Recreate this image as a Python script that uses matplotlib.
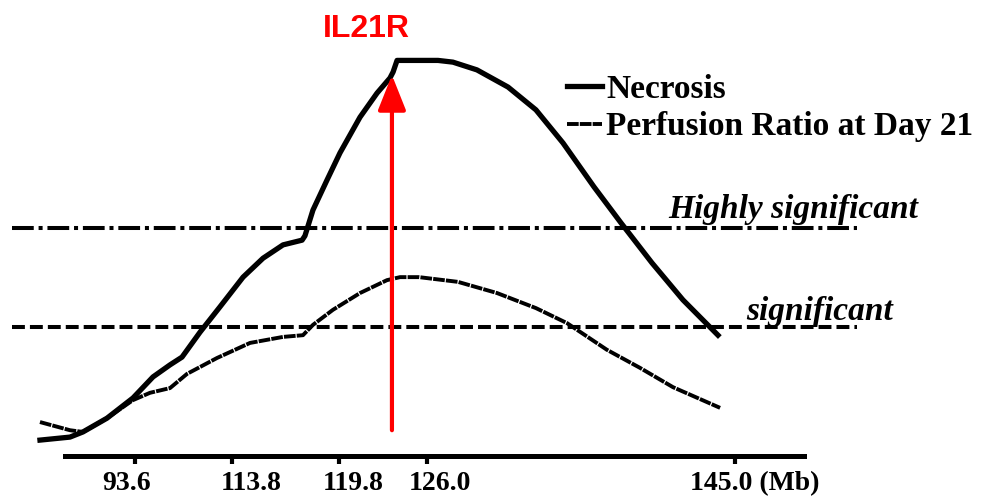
import numpy as np
import matplotlib
matplotlib.use("Agg")
import matplotlib.pyplot as plt
from matplotlib.scale import FuncScale

# marker positions on the chromosome map (Mb) and where they sit along the axis
tick_mb = [93.6, 113.8, 119.8, 126.0, 145.0]
tick_labels = ["93.6", "113.8", "119.8", "126.0", "145.0 (Mb)"]

# LOD-like score curves (Mb, score)
necrosis_mb = [73.82, 80.06, 82.77, 87.77, 93.18, 97.35, 100.89, 103.39, 107.14,
               111.30, 114.42, 115.54, 116.66, 117.73, 117.89, 118.34, 119.13,
               119.87, 121.28, 122.48, 123.39, 123.61, 123.89, 126.68, 127.60,
               129.08, 131.00, 132.72, 134.39, 136.30, 137.97, 139.88, 141.79, 143.95]
necrosis_lod = [0.37, 0.44, 0.56, 0.88, 1.35, 1.84, 2.12, 2.30, 2.88,
                3.47, 4.16, 4.60, 4.91, 5.02, 5.12, 5.72, 6.42,
                7.05, 7.88, 8.44, 8.79, 8.93, 9.20, 9.20, 9.16,
                8.98, 8.58, 8.05, 7.28, 6.26, 5.42, 4.49, 3.63, 2.81]

perfusion_mb = [73.82, 80.06, 82.77, 87.77, 93.18, 96.72, 100.89, 104.43, 110.68,
                114.81, 116.66, 117.78, 118.34, 119.46, 121.28, 123.18, 124.10,
                125.44, 127.91, 130.32, 132.72, 134.64, 137.10, 139.14, 141.18, 144.08]
perfusion_lod = [0.79, 0.60, 0.56, 0.88, 1.30, 1.47, 1.58, 1.91, 2.28,
                 2.63, 2.77, 2.81, 3.05, 3.40, 3.79, 4.09, 4.16,
                 4.16, 4.05, 3.79, 3.44, 3.09, 2.47, 2.05, 1.60, 1.12]

significant = 3.0
highly_significant = 5.30
gene_name = "IL21R"
gene_mb = 123.53

# the map is not drawn to scale: piecewise-linear position along the axis
knot_mb = np.array([65.5, 93.6, 113.8, 119.8, 126.0, 145.0, 160.7])
knot_pos = np.array([0, 135, 232, 339, 427, 735, 990], dtype=float)

def fwd(x):
    return np.interp(x, knot_mb, knot_pos)

def inv(p):
    return np.interp(p, knot_pos, knot_mb)

serif = "Liberation Serif"
plt.rcParams["font.family"] = [serif, "DejaVu Serif"]

fig = plt.figure(figsize=(9.9, 4.97), dpi=100)
ax = fig.add_axes([0, 0, 1, 1])
ax.set_xscale(FuncScale(ax, (fwd, inv)))
ax.set_xlim(65.5, 160.7)
ax.set_ylim(-0.953, 10.605)

# threshold lines
ax.plot([67.99, 152.53], [highly_significant] * 2, color="black", lw=2.9,
        dashes=(5.4, 1.2, 1.0, 1.2))
ax.plot([67.99, 152.53], [significant] * 2, color="black", lw=2.9,
        dashes=(3.2, 1.25))

ax.plot(necrosis_mb, necrosis_lod, color="black", lw=3.8,
        solid_joinstyle="round", label="Necrosis")
ax.plot(perfusion_mb, perfusion_lod, color="black", lw=2.8,
        dashes=(3.0, 0.3), label="Perfusion Ratio at Day 21")

ax.text(140.87, 5.53, "Highly significant", fontsize=24, style="italic",
        weight="bold", ha="left", va="baseline")
ax.text(145.68, 3.16, "significant", fontsize=24, style="italic",
        weight="bold", ha="left", va="baseline")

# gene marker
ax.annotate("", xy=(gene_mb, 8.86), xytext=(gene_mb, 0.60),
            arrowprops=dict(arrowstyle="-|>,head_length=1.08,head_width=0.43",
                            color="red", lw=3, mutation_scale=20,
                            shrinkA=0, shrinkB=0))
ax.text(121.70, 9.74, gene_name, color="red", fontsize=23, weight="bold",
        family="Liberation Sans", ha="center", va="baseline")

leg = ax.legend(loc="upper left", bbox_to_anchor=(0.573, 0.852),
                bbox_transform=fig.transFigure, frameon=False, fontsize=24,
                handlelength=1.05, handletextpad=0.12, labelspacing=0.2,
                borderpad=0, borderaxespad=0)
for t in leg.get_texts():
    t.set_weight("bold")

# axis: only the bottom line with the marker ticks
for s in ["top", "left", "right"]:
    ax.spines[s].set_visible(False)
ax.spines["bottom"].set_position(("data", 0))
ax.spines["bottom"].set_linewidth(3.6)
ax.spines["bottom"].set_bounds(79.02, 149.26)
ax.set_yticks([])
ax.set_xticks(tick_mb)
ax.set_xticklabels([])
ax.tick_params(axis="x", which="major", direction="out", length=6, width=3)
# labels sit a little off the tick marks in the original
ax.set_xticks([91.93, 114.87, 120.79, 126.80, 146.23], minor=True)
ax.set_xticklabels(tick_labels, minor=True, fontsize=20, weight="bold")
ax.tick_params(axis="x", which="minor", length=0, pad=11)

fig.savefig("out.png", dpi=100)
